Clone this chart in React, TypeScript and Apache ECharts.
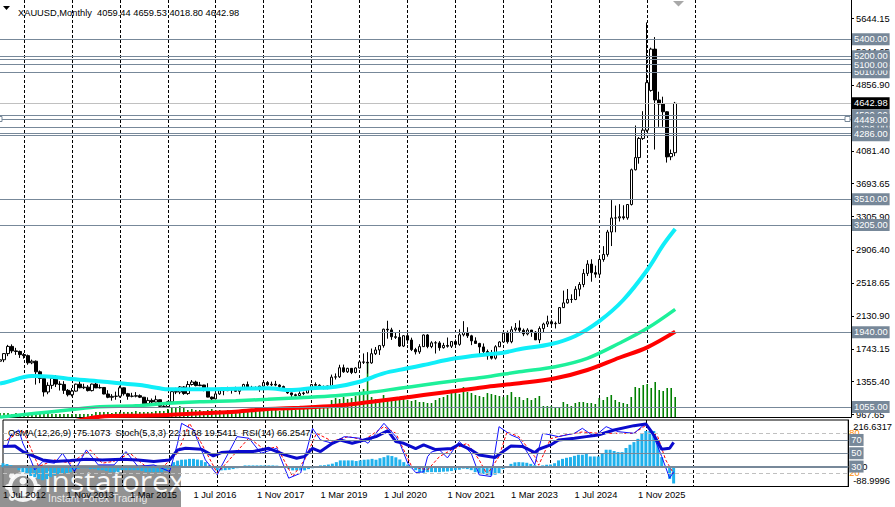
import React, { useEffect, useRef } from "react";
import * as echarts from "echarts";

const FONT = '"Liberation Sans", Arial, sans-serif';
const FS = 9.3;

const MONTH_NAMES = ["Jan", "Feb", "Mar", "Apr", "May", "Jun", "Jul", "Aug", "Sep", "Oct", "Nov", "Dec"];
const START_YEAR = 2012;
const START_MONTH = 6; // Jul
const SLOT_COUNT = 214;
const GRID_LAST_SLOT = 175; // yearly grid stops after Jan 2027

const categories: string[] = Array.from({ length: SLOT_COUNT }, (_, i) => {
  const m = (START_MONTH + i) % 12;
  const y = START_YEAR + Math.floor((START_MONTH + i) / 12);
  return `1 ${MONTH_NAMES[m]} ${y}`;
});

// monthly [open, high, low, close] from Jul 2012
const ohlc: number[][] = [
  [1597, 1630, 1565, 1614], [1614, 1692, 1586, 1687], [1687, 1790, 1657, 1772], [1772, 1796, 1692, 1719], [1719, 1755, 1672, 1712], [1712, 1723, 1636, 1675],
  [1675, 1694, 1627, 1663], [1663, 1676, 1555, 1578], [1578, 1616, 1562, 1597], [1597, 1606, 1321, 1472], [1472, 1487, 1338, 1393], [1393, 1417, 1180, 1234],
  [1234, 1348, 1207, 1312], [1312, 1434, 1270, 1396], [1396, 1434, 1292, 1327], [1327, 1361, 1251, 1323], [1323, 1361, 1211, 1253], [1253, 1268, 1181, 1201],
  [1201, 1280, 1182, 1244], [1244, 1332, 1238, 1326], [1326, 1392, 1277, 1284], [1284, 1331, 1268, 1291], [1291, 1315, 1240, 1250], [1250, 1332, 1240, 1327],
  [1327, 1345, 1280, 1282], [1282, 1322, 1275, 1287], [1287, 1290, 1206, 1210], [1210, 1255, 1160, 1171], [1171, 1208, 1131, 1182], [1182, 1238, 1142, 1184],
  [1184, 1307, 1167, 1283], [1283, 1287, 1191, 1213], [1213, 1223, 1142, 1183], [1183, 1224, 1170, 1184], [1184, 1232, 1170, 1190], [1190, 1205, 1162, 1172],
  [1172, 1175, 1077, 1095], [1095, 1170, 1080, 1134], [1134, 1157, 1098, 1115], [1115, 1191, 1110, 1142], [1142, 1143, 1052, 1065], [1065, 1088, 1046, 1061],
  [1061, 1128, 1058, 1118], [1118, 1263, 1107, 1238], [1238, 1283, 1208, 1233], [1233, 1304, 1208, 1293], [1293, 1303, 1200, 1215], [1215, 1362, 1199, 1322],
  [1322, 1375, 1310, 1351], [1351, 1367, 1300, 1309], [1309, 1352, 1302, 1316], [1316, 1318, 1242, 1272], [1272, 1337, 1171, 1173], [1173, 1180, 1123, 1152],
  [1152, 1220, 1146, 1211], [1211, 1264, 1200, 1249], [1249, 1262, 1195, 1249], [1249, 1295, 1244, 1268], [1268, 1270, 1214, 1268], [1268, 1296, 1236, 1242],
  [1242, 1274, 1205, 1269], [1269, 1331, 1268, 1322], [1322, 1357, 1271, 1280], [1280, 1306, 1261, 1271], [1271, 1299, 1264, 1275], [1275, 1306, 1236, 1303],
  [1303, 1366, 1302, 1345], [1345, 1362, 1307, 1318], [1318, 1356, 1303, 1325], [1325, 1365, 1301, 1315], [1315, 1326, 1281, 1298], [1298, 1309, 1245, 1253],
  [1253, 1266, 1211, 1223], [1223, 1225, 1160, 1201], [1201, 1214, 1180, 1192], [1192, 1243, 1182, 1215], [1215, 1237, 1196, 1222], [1222, 1284, 1221, 1282],
  [1282, 1326, 1276, 1321], [1321, 1347, 1311, 1313], [1313, 1324, 1281, 1292], [1292, 1310, 1266, 1284], [1284, 1306, 1266, 1305], [1305, 1439, 1302, 1409],
  [1409, 1453, 1381, 1413], [1413, 1555, 1400, 1520], [1520, 1557, 1460, 1472], [1472, 1519, 1458, 1513], [1513, 1516, 1445, 1464], [1464, 1525, 1454, 1517],
  [1517, 1611, 1514, 1589], [1589, 1689, 1564, 1585], [1585, 1704, 1451, 1577], [1577, 1747, 1567, 1686], [1686, 1765, 1670, 1730], [1730, 1789, 1671, 1781],
  [1781, 1981, 1757, 1975], [1975, 2075, 1863, 1967], [1967, 1992, 1849, 1886], [1886, 1933, 1860, 1879], [1879, 1966, 1765, 1776], [1776, 1906, 1764, 1898],
  [1898, 1959, 1803, 1847], [1847, 1875, 1717, 1734], [1734, 1755, 1677, 1708], [1708, 1798, 1684, 1769], [1769, 1913, 1765, 1907], [1907, 1917, 1750, 1770],
  [1770, 1833, 1751, 1814], [1814, 1834, 1688, 1813], [1813, 1834, 1721, 1757], [1757, 1814, 1746, 1783], [1783, 1877, 1758, 1774], [1774, 1831, 1753, 1829],
  [1829, 1853, 1780, 1796], [1796, 1974, 1780, 1909], [1909, 2070, 1890, 1937], [1937, 1998, 1872, 1897], [1897, 1909, 1787, 1837], [1837, 1879, 1805, 1807],
  [1807, 1814, 1681, 1766], [1766, 1807, 1688, 1711], [1711, 1735, 1615, 1661], [1661, 1730, 1617, 1633], [1633, 1786, 1617, 1768], [1768, 1833, 1765, 1824],
  [1824, 1949, 1823, 1928], [1928, 1959, 1805, 1827], [1827, 2009, 1809, 1969], [1969, 2048, 1949, 1990], [1990, 2079, 1932, 1962], [1962, 1983, 1893, 1919],
  [1919, 1987, 1902, 1965], [1965, 1966, 1885, 1940], [1940, 1953, 1847, 1849], [1849, 2009, 1810, 1983], [1983, 2052, 1931, 2036], [2036, 2135, 2001, 2063],
  [2063, 2088, 2002, 2039], [2039, 2065, 1984, 2044], [2044, 2236, 2039, 2230], [2230, 2431, 2228, 2286], [2286, 2450, 2277, 2327], [2327, 2387, 2286, 2326],
  [2326, 2483, 2318, 2447], [2447, 2531, 2364, 2503], [2503, 2685, 2471, 2634], [2634, 2790, 2603, 2744], [2744, 2801, 2536, 2643], [2643, 2726, 2583, 2625],
  [2625, 2817, 2614, 2798], [2798, 2956, 2772, 2858], [2858, 3148, 2832, 3123], [3123, 3500, 2957, 3289], [3289, 3435, 3120, 3289], [3289, 3452, 3247, 3303],
  [3303, 3439, 3268, 3290], [3290, 3453, 3268, 3448], [3448, 3872, 3436, 3858], [3858, 4381, 3850, 4002], [4002, 4245, 3930, 4228], [4228, 4550, 4210, 4326],
  [4326, 5598, 4306, 4887], [4795, 5300, 4780, 5283], [5283, 5425, 4097, 4682], [4682, 4780, 4365, 4634], [4634, 4721, 4365, 4543], [4543, 4550, 3943, 4010],
  [4012, 4097, 3971, 4050], [4059.44, 4659.53, 4018.8, 4642.98],
];

// volume (arbitrary units), one per month from Jul 2012
const volume: number[] = [
  4, 4, 4, 3, 4, 3,
  3, 4, 4, 5, 4, 5, 4, 3, 3, 3, 3, 3, 3, 3, 3, 3, 3, 3,
  5, 5, 5, 5, 4, 5, 5, 5, 5, 5, 6, 5, 5, 5, 5, 6, 6, 6,
  8, 9, 9, 11, 9,
  7, 8, 7, 7, 6, 7, 8, 7, 7, 6, 7, 7, 6, 7, 6, 7, 7, 6, 7, 7, 8, 7, 7, 6, 7, 8, 8, 7, 8,
  10, 11, 10, 12, 11, 10, 12,
  17, 19, 18, 20, 18, 19, 21,
  24, 28, 54, 20, 18, 17, 22, 19, 18, 17, 19, 18, 17, 16, 17, 15,
  15, 14, 14, 17, 19, 20, 22, 24, 25, 23, 30, 25, 24, 22, 21, 20, 24, 23, 22, 21,
  20, 22, 25, 20, 20, 17, 19, 17, 19, 21, 11, 11, 11, 10, 10, 15, 13, 11, 14, 15,
  15, 14, 14, 13, 19, 17, 20, 22, 17, 15, 14, 13, 20, 30, 29, 32, 33, 29, 35, 27,
  26, 29, 29, 20,
];

// moving averages: [category index, price]
const maCyan: number[][] = [
  [0, 1335], [1, 1343], [8, 1422], [13, 1414], [18, 1387], [26, 1355], [30, 1336], [35, 1316], [40, 1277], [42, 1265],
  [50, 1265], [59, 1272], [67, 1277], [73, 1257], [78, 1277], [84, 1296], [90, 1355], [96, 1454], [102, 1513], [106, 1552],
  [114, 1631], [122, 1679], [126, 1698], [130, 1738], [138, 1800], [144, 1895], [150, 2070], [156, 2320], [162, 2674],
  [166, 2970], [169, 3158],
];
const maGreen: number[][] = [
  [0, 936], [1, 942], [9, 982], [17, 1021], [25, 1060], [34, 1070], [42, 1100], [50, 1119], [59, 1131], [67, 1147],
  [75, 1166], [84, 1190], [92, 1225], [100, 1277], [106, 1316], [114, 1367], [122, 1414], [130, 1473], [139, 1532],
  [147, 1631], [155, 1809], [162, 1986], [169, 2210],
];
const maRed: number[][] = [
  [18, 880], [25, 942], [34, 954], [42, 962], [50, 982], [59, 1001], [67, 1033], [75, 1048], [84, 1072], [92, 1112],
  [100, 1159], [106, 1198], [114, 1245], [122, 1296], [130, 1336], [139, 1395], [147, 1493], [155, 1638], [162, 1761],
  [169, 1946],
];

// OsMA(12,26,9), one per month from Jul 2012
const osma: number[] = [
  18, 14, 9, -2, -14, -23,
  -32, -41, -46, -55, -60, -55, -46, -37, -32, -28, -28, -23, -14, -9, -5, -5, -9, -9, -14, -14, -18, -23, -23, -23,
  -14, -14, -14, -14, -14, -18, -23, -23, -23, -23, -23, -18, -9,
  23, 30, 34, 35, 38, 38, 35, 32, 23, 9,
  -5, -14, -15, -14, -12, -9, -5,
  5, 8, 8, 8, 8, 8, 8, 8, 8, 7, 5,
  1,
  -9, -15, -15, -15, -15, -9, -5,
  2, 8, 9, 12, 16, 23, 31, 31, 31, 31, 28, 31, 34, 35, 38,
  34, 41, 46, 54, 51, 45, 35, 23, 12,
  -5, -14, -23, -26, -23, -23, -23, -23, -21, -20, -18, -14, -12, -7, -9, -14, -23, -28, -32, -37, -38, -35, -28, -9,
  5, 15, 22, 23, 22, 20, 15, 9, 3, 8, 11, 12, 18, 31, 38, 43, 46, 52, 57, 57, 65, 49, 49, 49, 65, 80, 80, 74, 69, 69,
  88, 103, 115, 130, 157, 166, 166, 166, 106, 46, 0, -54, -75.1073,
];

// Stochastic(5,3,3) and RSI(14): [category index, value]
const stochMain: number[][] = [
  [1, 60], [2, 77.5], [4, 85], [5, 65], [7, 40], [8, 25], [10, 37.5], [13, 35], [15, 50], [18, 22.5], [21, 55], [24, 32.5],
  [28, 32.5], [31, 52.5], [34, 30], [38, 32.5], [42, 22.5], [44, 65], [45, 95], [48, 85], [51, 40], [54, 17.5], [55, 30],
  [59, 75], [62, 72.5], [65, 50], [69, 57.5], [72, 12.5], [75, 20], [78, 87.5], [80, 70], [83, 65], [86, 75], [90, 72.5],
  [92, 65], [96, 95], [99, 75], [100, 65], [102, 35], [104, 21], [106, 22], [107, 45], [108, 52], [110, 55], [112, 43],
  [115, 67.5], [118, 50], [120, 17.5], [123, 15], [125, 90], [128, 77.5], [130, 72.5], [134, 32.5], [136, 80], [140, 75],
  [144, 80], [146, 87.5], [149, 75], [152, 90], [155, 82.5], [159, 80], [162, 95], [164, 75], [166, 45], [168, 12.5],
  [169, 22.1168],
];
const stochSignal: number[][] = [
  [1, 70], [5, 85], [9, 30], [13, 40], [17, 35], [22, 55], [25, 35], [28, 38], [32, 50], [36, 30], [40, 28], [44, 50],
  [47, 95], [50, 65], [54, 20], [57, 40], [62, 73], [66, 55], [69, 60], [73, 15], [76, 40], [79, 80], [83, 68], [87, 75],
  [91, 70], [96, 90], [99, 80], [101, 55], [103, 30], [107, 25], [110, 45], [113, 55], [117, 65], [120, 40], [122, 18],
  [125, 45], [127, 82], [130, 75], [134, 45], [135, 32], [138, 72], [142, 78], [146, 82], [150, 80], [155, 80], [159, 80],
  [162, 92], [165, 75], [167, 40], [169, 19.5411],
];
const rsi: number[][] = [
  [0, 60], [3, 61], [5, 52.5], [8, 45], [10, 40], [13, 37.5], [17, 39], [21, 41], [25, 40], [30, 41], [34, 40], [38, 37.5],
  [42, 40], [44, 55], [46, 57.5], [50, 56], [53, 46], [55, 51], [59, 52.5], [63, 52.5], [67, 57.5], [71, 47.5], [74, 42.5],
  [76, 45], [78, 57.5], [80, 52.5], [83, 65], [85, 70], [88, 65], [91, 70], [94, 75], [97, 84], [99, 67.5], [101, 65],
  [104, 57], [106, 62.5], [109, 55.5], [113, 57], [115, 63.5], [118, 55], [120, 47.5], [124, 43.5], [126, 52.5], [128, 61],
  [131, 60], [134, 51], [135, 56], [138, 62.5], [140, 70], [144, 72.5], [147, 75], [150, 77.5], [154, 85], [159, 91.5],
  [162, 94], [164, 77.5], [166, 56], [168, 57.5], [169, 66.2547],
];

const priceTicks = [967.65, 1355.4, 1743.15, 2130.9, 2518.65, 2906.4, 3305.9, 3693.65, 4081.4, 4469.15, 4856.9, 5244.65, 5644.15];
const levelPrices = [5010, 5160, 5100, 5200, 5400, 4358, 4500, 4265, 4286, 4449, 3510, 3205, 1940, 1055];
const currentPrice = 4642.98;
const rsiLevels = [70, 50, 30];
const stochLevels = [80, 20];
const osmaMin = -88.9996;
const osmaMax = 216.6317;
const priceMin = 938.2;
const priceMax = 5863;

const SLATE = "#778899";
const NB2 = "\u00a0\u00a0";

function buildOption() {
  const last = ohlc[ohlc.length - 1];
  const header = `XAUUSD,Monthly${NB2}${last.map((v) => v.toFixed(2)).join(" ")}`;
  const indHeader = `OsMA(12,26,9) ${osma[osma.length - 1].toFixed(4)}${NB2}Stoch(5,3,3) ${stochMain[stochMain.length - 1][1].toFixed(4)} ${stochSignal[stochSignal.length - 1][1].toFixed(4)}${NB2}RSI(14) ${rsi[rsi.length - 1][1].toFixed(4)}`;

  const isJan = (i: number, v: string) => i <= GRID_LAST_SLOT && v.indexOf(" Jan ") >= 0;
  const isLabel = (i: number) => i % 16 === 0 && i < ohlc.length;
  const boxLabel = (text: string, bg: string) => ({
    show: true,
    position: "end",
    formatter: text,
    backgroundColor: bg,
    color: "#fff",
    padding: [2, 2, 1, 2],
    fontSize: FS,
    fontFamily: FONT,
    distance: 1,
  });

  const levelData: any[] = levelPrices.map((v) => ({
    yAxis: v,
    lineStyle: { color: SLATE, width: 1, type: "solid" },
    label: boxLabel(v.toFixed(2), SLATE),
  }));
  levelData.push({
    yAxis: currentPrice,
    lineStyle: { color: "#c0c0c0", width: 1, type: "solid" },
    label: boxLabel(currentPrice.toFixed(2), "#000"),
  });

  const nulls = ohlc.map(() => null);
  const splitLine = { show: true, interval: isJan, lineStyle: { color: "#000", width: 1, type: [3, 2] } };

  return {
    animation: false,
    backgroundColor: "#fff",
    textStyle: { fontFamily: FONT },
    title: [
      { text: header, left: 13, top: 3, textStyle: { fontSize: FS, fontWeight: "normal", color: "#000", fontFamily: FONT } },
      { text: indHeader, left: 3, top: 423, textStyle: { fontSize: FS, fontWeight: "normal", color: "#000", fontFamily: FONT } },
    ],
    grid: [
      { left: -2, right: 44, top: 0, height: 417 },
      { left: -2, right: 44, top: 420, height: 66.5, show: true, borderColor: "#000", borderWidth: 1, backgroundColor: "transparent" },
    ],
    xAxis: [
      {
        type: "category", gridIndex: 0, data: categories, boundaryGap: false,
        axisLine: { show: true, lineStyle: { color: "#000" } }, axisTick: { show: false }, axisLabel: { show: false },
        splitLine,
      },
      {
        type: "category", gridIndex: 1, data: categories, boundaryGap: false,
        axisLine: { show: true, lineStyle: { color: "#000" } }, axisTick: { show: false },
        axisLabel: { show: true, interval: isLabel, align: "left", margin: 4, fontSize: FS, fontFamily: FONT, color: "#000" },
        splitLine,
      },
    ],
    yAxis: [
      {
        type: "value", gridIndex: 0, position: "right", min: priceMin, max: priceMax,
        axisLine: { show: true, lineStyle: { color: "#000" } },
        axisTick: { show: true, length: 3, customValues: priceTicks, lineStyle: { color: "#000" } },
        axisLabel: { customValues: priceTicks, formatter: (v: number) => v.toFixed(2), margin: 5, fontSize: FS, fontFamily: FONT, color: "#000" },
        splitLine: { show: false },
      },
      { type: "value", gridIndex: 0, show: false, min: 0, max: 417, splitLine: { show: false } },
      { type: "value", gridIndex: 1, show: false, min: 0, max: 100, splitLine: { show: false } },
      {
        type: "value", gridIndex: 1, position: "right", min: osmaMin, max: osmaMax,
        axisLine: { show: true, lineStyle: { color: "#000" } }, axisTick: { show: false },
        axisLabel: {
          customValues: [osmaMin, osmaMax], margin: 5,
          formatter: (v: number) => (v > 0 ? `{t|${osmaMax.toFixed(4)}}` : `{b|${osmaMin.toFixed(4)}}`),
          rich: {
            t: { fontSize: FS, fontFamily: FONT, color: "#000", padding: [13, 0, 0, 0] },
            b: { fontSize: FS, fontFamily: FONT, color: "#000", padding: [0, 0, 12, 0] },
          },
        },
        splitLine: { show: false },
      },
    ],
    series: [
      {
        type: "line", name: "levels", xAxisIndex: 0, yAxisIndex: 0, data: nulls, z: 1, silent: true, showSymbol: false,
        markLine: { silent: true, symbol: ["none", "none"], animation: false, data: levelData },
      },
      {
        type: "bar", name: "volume", xAxisIndex: 0, yAxisIndex: 1, data: volume, barWidth: 1.6, z: 2,
        itemStyle: { color: "#008000" }, silent: true,
      },
      {
        type: "candlestick", name: "XAUUSD", xAxisIndex: 0, yAxisIndex: 0, z: 3, barWidth: 3,
        data: ohlc.map(([o, h, l, c]) => [o, c, l, h]),
        itemStyle: { color: "#ffffff", color0: "#000000", borderColor: "#000000", borderColor0: "#000000", borderWidth: 1 },
      },
      {
        type: "line", name: "MA1", xAxisIndex: 0, yAxisIndex: 0, data: maCyan, smooth: 0.35, showSymbol: false, z: 4,
        lineStyle: { color: "#10EEF8", width: 4 },
      },
      {
        type: "line", name: "MA2", xAxisIndex: 0, yAxisIndex: 0, data: maGreen, smooth: 0.35, showSymbol: false, z: 4,
        lineStyle: { color: "#1DF09A", width: 3.5 },
      },
      {
        type: "line", name: "MA3", xAxisIndex: 0, yAxisIndex: 0, data: maRed, smooth: 0.35, showSymbol: false, z: 4,
        lineStyle: { color: "#FF0000", width: 4 },
      },
      {
        type: "bar", name: "OsMA", xAxisIndex: 1, yAxisIndex: 3, data: osma, barWidth: 3, z: 2,
        itemStyle: { color: "#1FB1EC" },
        markLine: {
          silent: true, symbol: ["none", "none"], animation: false,
          data: [{ yAxis: 0, lineStyle: { color: SLATE, width: 2, type: "solid" }, label: { show: true, position: "end", formatter: "0.00", color: "#000", fontSize: FS, fontFamily: FONT, distance: 1 } }],
        },
      },
      {
        type: "line", name: "StochSignal", xAxisIndex: 1, yAxisIndex: 2, data: stochSignal, showSymbol: false, z: 3,
        lineStyle: { color: "#FF0000", width: 1, type: [3, 2] },
      },
      {
        type: "line", name: "StochMain", xAxisIndex: 1, yAxisIndex: 2, data: stochMain, showSymbol: false, z: 3,
        lineStyle: { color: "#1010FF", width: 1 },
        markLine: {
          silent: true, symbol: ["none", "none"], animation: false,
          data: stochLevels.map((v) => ({
            yAxis: v, lineStyle: { color: "#c0c0c0", width: 1, type: [4, 3] },
            label: { show: true, position: "end", formatter: String(v), color: "#FF8C00", fontSize: FS, fontFamily: FONT, distance: 1 },
          })),
        },
      },
      {
        type: "line", name: "RSI", xAxisIndex: 1, yAxisIndex: 2, data: rsi, showSymbol: false, z: 4,
        lineStyle: { color: "#0A0ACD", width: 3 },
        markLine: {
          silent: true, symbol: ["none", "none"], animation: false,
          data: rsiLevels.map((v) => ({
            yAxis: v, lineStyle: { color: SLATE, width: 1, type: "solid" },
            label: boxLabel(String(v), SLATE),
          })),
        },
      },
    ],
    graphic: [
      { type: "polygon", shape: { points: [[3, 6], [10, 6], [6.5, 10]] }, style: { fill: "#000" }, silent: true },
      { type: "polygon", shape: { points: [[673, 1], [684, 1], [678.5, 6.5]] }, style: { fill: "#a8a8a8" }, silent: true },
      { type: "rect", shape: { x: 845, y: 116.5, width: 5, height: 5 }, style: { fill: "#fff", stroke: SLATE, lineWidth: 1 }, z: 10, silent: true },
      { type: "rect", shape: { x: -2, y: 116.5, width: 4, height: 5 }, style: { fill: "#fff", stroke: SLATE, lineWidth: 1 }, z: 10, silent: true },
      {
        type: "group", z: 100, silent: true,
        children: [
          { type: "rect", shape: { x: 0, y: 465, width: 181, height: 42 }, style: { fill: "rgba(128,128,128,0.86)" } },
          { type: "ring", shape: { cx: 23, cy: 487, r: 15, r0: 11 }, style: { fill: "rgba(255,255,255,0.9)" } },
          { type: "circle", shape: { cx: 23, cy: 470, r: 3 }, style: { fill: "rgba(255,255,255,0.9)" } },
          { type: "circle", shape: { cx: 8, cy: 487, r: 3 }, style: { fill: "rgba(255,255,255,0.9)" } },
          { type: "circle", shape: { cx: 38, cy: 487, r: 3 }, style: { fill: "rgba(255,255,255,0.9)" } },
          { type: "circle", shape: { cx: 12, cy: 476, r: 3 }, style: { fill: "rgba(255,255,255,0.9)" } },
          { type: "circle", shape: { cx: 34, cy: 476, r: 3 }, style: { fill: "rgba(255,255,255,0.9)" } },
          { type: "circle", shape: { cx: 12, cy: 498, r: 3 }, style: { fill: "rgba(255,255,255,0.9)" } },
          { type: "circle", shape: { cx: 34, cy: 498, r: 3 }, style: { fill: "rgba(255,255,255,0.9)" } },
          { type: "circle", shape: { cx: 23, cy: 481, r: 3.5 }, style: { fill: "rgba(255,255,255,0.95)" } },
          { type: "rect", shape: { x: 19.5, y: 485.5, width: 7, height: 11, r: 2 }, style: { fill: "rgba(255,255,255,0.95)" } },
          { type: "text", style: { text: "instaforex", x: 44, y: 465, fontSize: 30, fontFamily: '"Open Sans", "Liberation Sans", sans-serif', fill: "rgba(255,255,255,0.95)", verticalAlign: "top" } },
          { type: "text", style: { text: "Instant Forex Trading", x: 48, y: 492, fontSize: 10.5, fontFamily: FONT, fill: "rgba(240,240,240,0.95)", verticalAlign: "top" } },
        ],
      },
    ],
  };
}

export default function App() {
  const ref = useRef<HTMLDivElement>(null);
  useEffect(() => {
    if (!ref.current) return;
    const chart = echarts.init(ref.current, null, { renderer: "svg", width: 895, height: 507 });
    chart.setOption(buildOption() as any);
    return () => chart.dispose();
  }, []);
  return <div ref={ref} style={{ position: "absolute", left: 0, top: 0, width: 895, height: 507, background: "#fff" }} />;
}
